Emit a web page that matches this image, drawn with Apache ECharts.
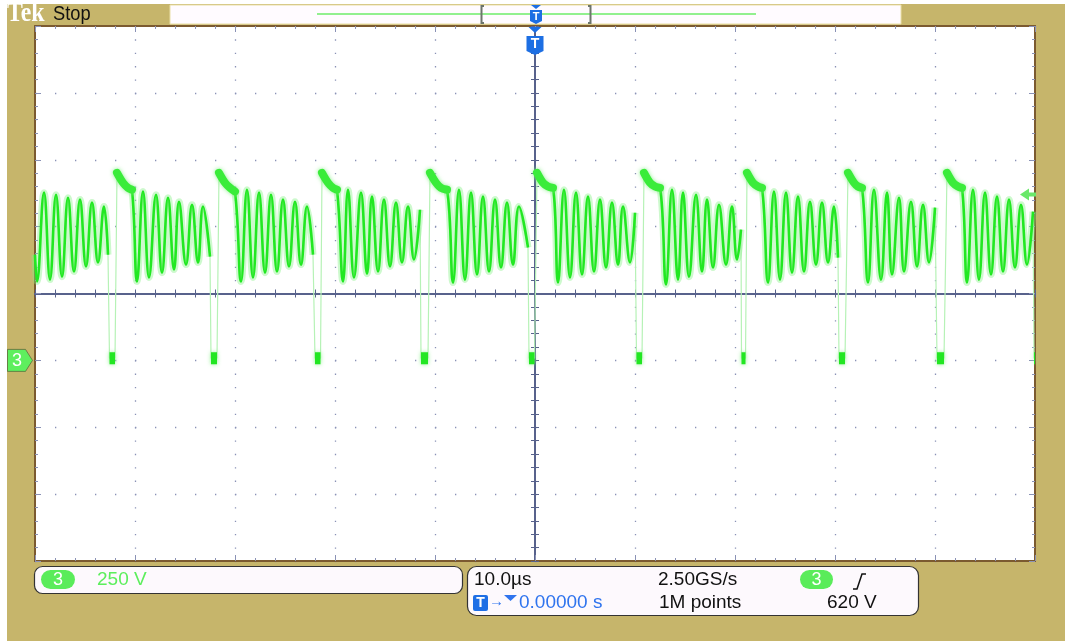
<!DOCTYPE html>
<html>
<head>
<meta charset="utf-8">
<script src="https://cdn.jsdelivr.net/npm/echarts@6/dist/echarts.min.js"></script>
<style>
  html, body { margin: 0; padding: 0; background: #ffffff; }
  #bezel { position: absolute; left: 7px; top: 4px; width: 1058px; height: 637px; background: #c6b56b; }
  #scope { position: absolute; left: 0; top: 0; width: 1065px; height: 641px; }
</style>
</head>
<body>
<div id="bezel"></div>
<div id="scope"></div>
<script>
// ---- acquisition settings ----
const timeRange = [-50, 50];     // µs, 10.0 µs/div, trigger at t = 0
const timeDiv = 10;
const voltRange = [-750, 1250];  // V, CH3 250 V/div, ground one division below centre
const voltDiv = 250;
const triggerLevel = 620;        // V, rising edge on CH3
const lowLevel = 8;              // V, level while the switch is held low

// ---- CH3 record: each burst = [time µs, volts], starting at the top of the rising edge ----
const burstA = [[-50.0,395],[-49.8,295],[-49.1,627],[-48.5,302],[-47.9,619],[-47.3,313],[-46.7,608],[-46.1,332],[-45.5,601],[-44.9,351],[-44.3,590],[-43.7,366],[-43.1,575],[-42.7,395]];
const burstB = [[-41.8,701],[-41.2,664],[-40.7,645],[-40.3,638],[-39.8,295],[-39.2,631],[-38.6,310],[-37.9,619],[-37.3,328],[-36.7,608],[-36.1,340],[-35.6,593],[-34.9,358],[-34.3,582],[-33.7,366],[-33.2,575],[-32.5,388]];
const burstC = [[-31.6,701],[-31.0,664],[-30.5,645],[-30.0,631],[-29.4,295],[-28.8,638],[-28.2,310],[-27.6,627],[-27.0,328],[-26.4,619],[-25.8,332],[-25.2,601],[-24.6,351],[-24.0,593],[-23.4,358],[-22.8,575],[-22.2,395]];
const burstD = [[-21.3,701],[-20.7,664],[-20.2,645],[-19.8,638],[-19.2,295],[-18.7,638],[-18.1,310],[-17.4,627],[-16.8,324],[-16.3,612],[-15.7,332],[-15.1,601],[-14.5,351],[-13.9,590],[-13.3,366],[-12.7,575],[-12.1,377],[-11.5,563]];
const burstE = [[-10.5,701],[-9.9,664],[-9.4,645],[-8.8,638],[-8.2,291],[-7.6,638],[-7.0,302],[-6.4,627],[-5.8,321],[-5.2,612],[-4.6,332],[-4.0,601],[-3.4,347],[-2.8,590],[-2.2,358],[-1.6,575],[-0.7,422]];
const burstF = [[0.2,701],[0.8,664],[1.3,650],[1.8,645],[2.3,291],[2.9,638],[3.5,310],[4.1,627],[4.7,321],[5.3,612],[5.9,332],[6.5,601],[7.1,347],[7.7,590],[8.3,358],[8.8,575],[9.5,366],[10.0,552]];
const burstG = [[10.9,701],[11.5,664],[12.0,650],[12.5,645],[13.1,284],[13.7,638],[14.3,302],[14.8,627],[15.4,313],[16.1,619],[16.7,332],[17.2,601],[17.8,347],[18.4,582],[19.1,358],[19.7,575],[20.2,377],[20.6,489]];
const burstH = [[21.2,701],[21.8,664],[22.3,650],[22.7,645],[23.3,291],[23.9,631],[24.5,302],[25.1,627],[25.7,328],[26.3,612],[26.9,332],[27.5,593],[28.1,358],[28.7,590],[29.3,366],[29.9,575],[30.3,384]];
const burstI = [[31.3,701],[31.9,664],[32.3,650],[32.7,645],[33.3,291],[33.9,638],[34.6,302],[35.2,627],[35.7,321],[36.4,608],[36.9,332],[37.6,593],[38.2,351],[38.8,582],[39.4,366],[40.0,571]];
const burstJ = [[41.2,701],[41.8,664],[42.3,650],[42.7,645],[43.2,291],[43.8,638],[44.4,302],[45.0,627],[45.6,321],[46.2,612],[46.8,332],[47.4,601],[48.0,347],[48.6,582],[49.2,358],[49.8,556]];

// low intervals [start, end] in µs that follow each burst
const lowSpans = [[-42.55,-42.0],[-32.4,-31.8],[-22.0,-21.45],[-11.4,-10.7],[-0.6,-0.05],[10.15,10.7],[20.65,21.05],[30.4,31.0],[40.2,40.9],[49.9,50.0]];

// ---- readout texts ----
const chLabel = '3';
const chScale = '250 V';
const timebase = '10.0\u00b5s';
const sampleRate = '2.50GS/s';
const recordLength = '1M points';
const triggerPos = '0.00000 s';
const triggerText = '620 V';

// ---- series assembly ----
const bursts = [burstA, burstB, burstC, burstD, burstE, burstF, burstG, burstH, burstI, burstJ];
const GAP = ['-', '-'];

const trace = [];
bursts.forEach((b, i) => {
  b.forEach(p => trace.push(p));
  const s = lowSpans[i];
  if (s) { trace.push([s[0], lowLevel]); trace.push([s[1], lowLevel]); }
});

const bodies = [];
bursts.forEach((b, i) => { if (i) bodies.push(GAP); b.forEach(p => bodies.push(p)); });

const plateaus = [];
bursts.slice(1).forEach((b, i) => { if (i) plateaus.push(GAP); b.slice(0, 4).forEach(p => plateaus.push(p)); });

const lows = [];
lowSpans.forEach((s, i) => { if (i) lows.push(GAP); lows.push([s[0], lowLevel]); lows.push([s[1], lowLevel]); });

// ---- graticule ----
const DOT = '#8a92b6';
const FRAME = '#7b5a30';
const AXIS = '#58628c';

function xAx(extra) {
  return Object.assign({
    type: 'value', min: timeRange[0], max: timeRange[1], interval: timeDiv,
    axisLabel: { show: false }, splitLine: { show: false },
    axisLine: { onZero: false, lineStyle: { color: FRAME, width: 2 } },
    axisTick: { inside: true, length: 6, lineStyle: { color: DOT, width: 1 } },
    minorTick: { show: true, splitNumber: 5, length: 3, lineStyle: { color: DOT, width: 1 } }
  }, extra);
}
function yAx(extra) {
  return Object.assign({
    type: 'value', min: voltRange[0], max: voltRange[1], interval: voltDiv,
    axisLabel: { show: false }, splitLine: { show: false },
    axisLine: { onZero: false, lineStyle: { color: FRAME, width: 2 } },
    axisTick: { inside: true, length: 6, lineStyle: { color: DOT, width: 1 } },
    minorTick: { show: true, splitNumber: 5, length: 3, lineStyle: { color: DOT, width: 1 } }
  }, extra);
}
const centreTick = (inside) => ({ inside, length: 4, lineStyle: { color: AXIS, width: 1 } });
const centreMinor = (inside) => ({ show: true, splitNumber: 5, length: 4, lineStyle: { color: AXIS, width: 1 } });

const FONT = '"Liberation Sans", Arial, sans-serif';

const option = {
  animation: false,
  backgroundColor: 'transparent',
  grid: { left: 35, top: 26, width: 1000, height: 535, show: true, backgroundColor: '#ffffff', borderWidth: 0 },
  xAxis: [
    xAx({ position: 'bottom',
      splitLine: { show: true, lineStyle: { color: DOT, width: 1.3, type: [1.3, 12.07] } } }),
    xAx({ position: 'top' }),
    xAx({ position: 'bottom', offset: -267.5, axisLine: { onZero: false, lineStyle: { color: AXIS, width: 2 } },
      axisTick: centreTick(true), minorTick: centreMinor(true) }),
    xAx({ position: 'bottom', offset: -267.5, axisLine: { onZero: false, lineStyle: { color: AXIS, width: 2 } },
      axisTick: centreTick(false), minorTick: centreMinor(false) })
  ],
  yAxis: [
    yAx({ position: 'left',
      splitLine: { show: true, lineStyle: { color: DOT, width: 1.3, type: [1.3, 18.7] } } }),
    yAx({ position: 'right' }),
    yAx({ position: 'left', offset: -500, axisLine: { onZero: false, lineStyle: { color: AXIS, width: 2 } },
      axisTick: centreTick(true), minorTick: centreMinor(true) }),
    yAx({ position: 'left', offset: -500, axisLine: { onZero: false, lineStyle: { color: AXIS, width: 2 } },
      axisTick: centreTick(false), minorTick: centreMinor(false) })
  ],
  series: [
    { // fast switching edges, faint
      type: 'line', data: trace, symbol: 'none', smooth: false, z: 3,
      lineStyle: { color: '#b6f2b6', width: 1.2 }
    },
    { // glow around the burst bodies
      type: 'line', data: bodies, symbol: 'none', smooth: 0.45, z: 4,
      lineStyle: { color: 'rgba(130,240,130,0.4)', width: 7 }
    },
    { // burst bodies
      type: 'line', data: bodies, symbol: 'none', smooth: 0.45, z: 5,
      lineStyle: { color: '#22e822', width: 2.6 }
    },
    { // noisy plateau after each turn-on spike
      type: 'line', data: plateaus, symbol: 'none', smooth: 0.3, z: 6,
      lineStyle: { color: '#3aec3a', width: 8, cap: 'round', join: 'round', shadowColor: 'rgba(130,240,130,0.9)', shadowBlur: 4 }
    },
    { // held-low intervals
      type: 'line', data: lows, symbol: 'none', z: 6,
      lineStyle: { color: '#22e622', width: 12, cap: 'butt', shadowColor: 'rgba(130,240,130,0.9)', shadowBlur: 4 }
    },
    { // channel ground, trigger level and trigger position markers
      type: 'line', data: [], symbol: 'none', clip: false, z: 8,
      markPoint: {
        silent: true,
        data: [
          { coord: [timeRange[0], 0], symbol: 'path://M0,0 L18,0 L25,11 L18,22 L0,22 Z', symbolSize: [25, 22],
            symbolOffset: [-15, 0], itemStyle: { color: '#5eef5e', borderColor: '#4a4a30', borderWidth: 0.6 },
            label: { show: true, formatter: chLabel, color: '#ffffff', fontSize: 18, fontFamily: FONT, offset: [-3, 1] } },
          { coord: [timeRange[1], triggerLevel], symbol: 'path://M0,6 L9,0 L9,4 L16,4 L16,8 L9,8 L9,12 Z', symbolSize: [16, 12],
            symbolOffset: [-7, 0], itemStyle: { color: '#6ae86a' }, label: { show: false } },
          { coord: [0, voltRange[1]], symbol: 'path://M2,0 L15,0 L8.5,6 Z M0,9 L17,9 L17,24 L8.5,28 L0,24 Z', symbolSize: [17, 28],
            symbolOffset: [0, 15], itemStyle: { color: '#1d6fe3' },
            label: { show: true, formatter: 'T', color: '#ffffff', fontSize: 14, fontWeight: 'bold', fontFamily: FONT, offset: [0, 3] } }
        ]
      }
    }
  ],
  graphic: [
    // top status bar
    { type: 'text', x: 7, y: 14, scaleX: 0.88, style: { text: 'Tek', fill: '#ffffff', font: 'bold 27px "Liberation Serif", serif', textVerticalAlign: 'middle' } },
    { type: 'text', x: 53, y: 14, scaleX: 0.87, style: { text: 'Stop', fill: '#111111', font: '21px ' + FONT, textVerticalAlign: 'middle' } },
    { type: 'rect', shape: { x: 170, y: 5, width: 731, height: 19 }, style: { fill: '#fffbff', stroke: '#eadfa8', lineWidth: 1 } },
    { type: 'line', shape: { x1: 317, y1: 14, x2: 756, y2: 14 }, style: { stroke: '#92f08f', lineWidth: 2 } },
    { type: 'polyline', shape: { points: [[484, 6], [481.5, 6], [481.5, 23], [484, 23]] }, style: { stroke: '#6c756b', lineWidth: 2, fill: null } },
    { type: 'polyline', shape: { points: [[588, 6], [590.5, 6], [590.5, 23], [588, 23]] }, style: { stroke: '#6c756b', lineWidth: 2, fill: null } },
    { type: 'polygon', shape: { points: [[531, 5], [541, 5], [536, 9]] }, style: { fill: '#1d6fe3' } },
    { type: 'polygon', shape: { points: [[530, 10], [542, 10], [542, 21], [536, 24], [530, 21]] }, style: { fill: '#1d6fe3' } },
    { type: 'text', x: 536, y: 16.5, style: { text: 'T', fill: '#ffffff', font: 'bold 11px ' + FONT, textAlign: 'center', textVerticalAlign: 'middle' } },

    // channel readout
    { type: 'rect', shape: { x: 34.5, y: 566.5, width: 428, height: 27, r: 8 }, style: { fill: '#fdf9fd', stroke: '#333333', lineWidth: 1.2 } },
    { type: 'rect', shape: { x: 41, y: 570, width: 34, height: 19, r: 9.5 }, style: { fill: '#5aec5a' } },
    { type: 'text', x: 58, y: 580, style: { text: chLabel, fill: '#ffffff', font: '18px ' + FONT, textAlign: 'center', textVerticalAlign: 'middle' } },
    { type: 'text', x: 97, y: 580, style: { text: chScale, fill: '#5cee5c', font: '19px ' + FONT, textVerticalAlign: 'middle' } },

    // horizontal / trigger readout
    { type: 'rect', shape: { x: 467.5, y: 566.5, width: 451, height: 49, r: 9 }, style: { fill: '#fdf9fd', stroke: '#333333', lineWidth: 1.2 } },
    { type: 'text', x: 474, y: 580, style: { text: timebase, fill: '#111111', font: '19px ' + FONT, textVerticalAlign: 'middle' } },
    { type: 'text', x: 658, y: 580, style: { text: sampleRate, fill: '#111111', font: '19px ' + FONT, textVerticalAlign: 'middle' } },
    { type: 'rect', shape: { x: 800, y: 570, width: 33, height: 19, r: 9.5 }, style: { fill: '#5aec5a' } },
    { type: 'text', x: 816.5, y: 580, style: { text: chLabel, fill: '#ffffff', font: '18px ' + FONT, textAlign: 'center', textVerticalAlign: 'middle' } },
    { type: 'polyline', shape: { points: [[853, 589], [857, 589], [862, 574], [866, 574]] }, style: { stroke: '#111111', lineWidth: 1.5, fill: null } },
    { type: 'rect', shape: { x: 473, y: 595, width: 15, height: 16, r: 2 }, style: { fill: '#1f6fe5' } },
    { type: 'text', x: 480.5, y: 603.5, style: { text: 'T', fill: '#ffffff', font: 'bold 14px ' + FONT, textAlign: 'center', textVerticalAlign: 'middle' } },
    { type: 'text', x: 489, y: 602, style: { text: '\u2192', fill: '#2f74ee', font: 'bold 15px ' + FONT, textVerticalAlign: 'middle' } },
    { type: 'polygon', shape: { points: [[504, 595], [517, 595], [510.5, 601]] }, style: { fill: '#2f74ee' } },
    { type: 'text', x: 519, y: 603, style: { text: triggerPos, fill: '#2f74ee', font: '19px ' + FONT, textVerticalAlign: 'middle' } },
    { type: 'text', x: 659, y: 603, style: { text: recordLength, fill: '#111111', font: '19px ' + FONT, textVerticalAlign: 'middle' } },
    { type: 'text', x: 827, y: 603, style: { text: triggerText, fill: '#111111', font: '19px ' + FONT, textVerticalAlign: 'middle' } }
  ]
};

const chart = echarts.init(document.getElementById('scope'), null, { renderer: 'canvas' });
chart.setOption(option);
</script>
</body>
</html>
